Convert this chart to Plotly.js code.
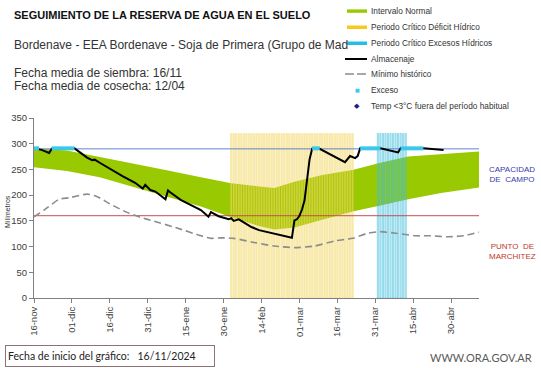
<!DOCTYPE html>
<html><head><meta charset="utf-8">
<script src="https://cdn.plot.ly/plotly-3.0.1.min.js"></script>
<style>html,body{margin:0;padding:0;background:#fff;}#chart{width:541px;height:368px;}</style>
</head><body><div id="chart"></div>
<script>
// ---------- DATA ----------
const tickDates = ['2024-11-16','2024-12-01','2024-12-16','2024-12-31','2025-01-15','2025-01-30','2025-02-14','2025-03-01','2025-03-16','2025-03-31','2025-04-15','2025-04-30'];
const tickLabels = ['16-nov','01-dic','16-dic','31-dic','15-ene','30-ene','14-feb','01-mar','16-mar','31-mar','15-abr','30-abr'];

const bandDates = ['2024-11-16','2024-11-29','2024-12-12','2024-12-25','2025-01-08','2025-01-21','2025-02-02','2025-02-13','2025-02-19','2025-02-27','2025-03-10','2025-03-22','2025-04-02','2025-04-13','2025-04-26','2025-05-11'];
const bandUpper = [291,287,274,262,248,235,223,217,214,226,239,249,263,275,280,285];
const bandLower = [254,247,235,216,196,178,157,140,133,137,152,168,180,192,204,215];

const almDates = ['2024-11-16','2024-11-19','2024-11-22','2024-11-23','2024-12-02','2024-12-07','2024-12-09','2024-12-10','2024-12-12','2024-12-16','2024-12-21','2024-12-26','2024-12-28','2024-12-29','2024-12-30','2025-01-01','2025-01-03','2025-01-05','2025-01-07','2025-01-08','2025-01-09','2025-01-13','2025-01-21','2025-01-24','2025-01-25','2025-01-28','2025-02-01','2025-02-02','2025-02-03','2025-02-05','2025-02-10','2025-02-13','2025-02-18','2025-02-26','2025-02-27','2025-02-28','2025-03-01','2025-03-02','2025-03-03','2025-03-04','2025-03-05','2025-03-06','2025-03-09','2025-03-19','2025-03-21','2025-03-23','2025-03-24','2025-03-25','2025-04-02','2025-04-09','2025-04-10','2025-04-19','2025-04-27'];
const almValues = [291,288,282,290,291,273,268,269,263,251,237,224,216,213,220,210,207,200,192,209,205,191,171,158,167,159,153,155,150,153,138,132,126,117,151,153,160,172,190,235,270,290,290,264,276,272,276,291,291,283,291,291,288];

const minDates = ['2024-11-16','2024-11-20','2024-11-26','2024-11-30','2024-12-07','2024-12-11','2024-12-16','2024-12-23','2024-12-28','2025-01-02','2025-01-11','2025-01-21','2025-01-25','2025-01-29','2025-02-03','2025-02-11','2025-02-19','2025-02-27','2025-03-07','2025-03-15','2025-03-22','2025-03-28','2025-04-02','2025-04-08','2025-04-16','2025-04-22','2025-04-29','2025-05-05','2025-05-11'];
const minValues = [158,171,192,195,202,197,183,166,157,150,137,121,116,117,116,108,101,98,101,111,116,126,129,126,121,121,119,121,128];

const excesoDates = ['2024-11-16','2024-11-18',null,'2024-11-23','2024-12-02',null,'2025-03-06','2025-03-09',null,'2025-03-25','2025-04-02',null,'2025-04-10','2025-04-19'];
const excesoValues = [291,291,null,291,291,null,291,291,null,291,291,null,291,291];

const deficitPeriod = ['2025-02-02','2025-03-22'];
const excesoPeriod = ['2025-04-01','2025-04-12'];
const periodHeight = 320;

const capacidadCampo = 290;
const puntoMarchitez = 160;
const xRange = ['2024-11-16','2025-05-11'];

const legendLabels = ['Intervalo Normal','Periodo Crítico Déficit Hídrico','Periodo Crítico Excesos Hídricos','Almacenaje','Mínimo histórico','Exceso','Temp <3°C fuera del período habitual'];

// ---------- HELPERS ----------
function expandDays(a,b){
  const out=[]; let d=new Date(a+'T00:00:00Z'); const e=new Date(b+'T00:00:00Z');
  while(d<=e){ out.push(d.toISOString().slice(0,10)); d=new Date(d.getTime()+86400000); }
  return out;
}
const W=541,H=368,M={l:34,r:62,t:118,b:70};
const PW=W-M.l-M.r, PH=H-M.t-M.b;
const px=x=>(x-M.l)/PW, py=y=>(H-M.b-y)/PH;
const FONT='"Liberation Sans", Arial, sans-serif';
const DAY=86400000;

const defDays=expandDays(deficitPeriod[0],deficitPeriod[1]);
const excDays=expandDays(excesoPeriod[0],excesoPeriod[1]);

const traces=[
  {x:bandDates,y:bandLower,type:'scatter',mode:'lines',line:{width:0,color:'#99C900'},hoverinfo:'skip',showlegend:false,yaxis:'y'},
  {x:bandDates,y:bandUpper,type:'scatter',mode:'lines',line:{width:0,color:'#99C900'},fill:'tonexty',fillcolor:'#99C900',showlegend:false,yaxis:'y'},
  {x:defDays,y:defDays.map(()=>periodHeight),type:'bar',width:0.62*DAY,marker:{color:'rgba(248,224,110,0.55)',line:{color:'rgba(232,196,60,0.55)',width:0.4}},showlegend:false,yaxis:'y2'},
  {x:excDays,y:excDays.map(()=>periodHeight),type:'bar',width:0.45*DAY,marker:{color:'rgba(170,228,242,0.25)',line:{color:'rgba(50,185,218,0.85)',width:0.6}},showlegend:false,yaxis:'y2'},
  {x:xRange,y:[capacidadCampo,capacidadCampo],type:'scatter',mode:'lines',line:{color:'#5E86D4',width:1},showlegend:false,yaxis:'y2'},
  {x:xRange,y:[puntoMarchitez,puntoMarchitez],type:'scatter',mode:'lines',line:{color:'#C0504D',width:1},showlegend:false,yaxis:'y2'},
  {x:minDates,y:minValues,type:'scatter',mode:'lines',line:{color:'#8C8C8C',width:1.6,dash:'7px,4px',shape:'spline',smoothing:0.6},showlegend:false,yaxis:'y2'},
  {x:almDates,y:almValues,type:'scatter',mode:'lines',line:{color:'#000000',width:2},showlegend:false,yaxis:'y2'},
  {x:excesoDates,y:excesoValues,type:'scatter',mode:'lines',connectgaps:false,line:{color:'#3CC8EC',width:4},showlegend:false,yaxis:'y2'}
];

const ann=[];
const shapes=[];
function txt(x,y,text,opt){ann.push(Object.assign({xref:'paper',yref:'paper',x:px(x),y:py(y),text:text,showarrow:false,xanchor:'left',yanchor:'middle',font:{family:FONT,size:12,color:'#222'}},opt||{}));}

txt(12,15,'<b>SEGUIMIENTO DE LA RESERVA DE AGUA EN EL SUELO</b>',{font:{family:FONT,size:11,color:'#111'}});
txt(12,45,'Bordenave - EEA Bordenave - Soja de Primera (Grupo de Mad',{font:{family:FONT,size:12,color:'#333'}});
txt(12,73,'Fecha media de siembra: 16/11',{font:{family:FONT,size:12,color:'#333'}});
txt(12,86,'Fecha media de cosecha: 12/04',{font:{family:FONT,size:12,color:'#333'}});

// legend
const legY=[11,27,43,59,74,90,106];
legendLabels.forEach((l,i)=>txt(369,legY[i],l,{font:{family:FONT,size:8.3,color:'#333'}}));
const lx0=px(347), lx1=px(367);
shapes.push({type:'rect',xref:'paper',yref:'paper',x0:lx0,x1:lx1,y0:py(12.8),y1:py(9.4),fillcolor:'#99C900',line:{width:0}});
shapes.push({type:'rect',xref:'paper',yref:'paper',x0:lx0,x1:lx1,y0:py(29),y1:py(25.5),fillcolor:'#F8C81A',line:{width:0}});
shapes.push({type:'rect',xref:'paper',yref:'paper',x0:lx0,x1:lx1,y0:py(45),y1:py(41.5),fillcolor:'#22BDEA',line:{width:0}});
shapes.push({type:'line',xref:'paper',yref:'paper',x0:px(345),x1:px(367),y0:py(59),y1:py(59),line:{color:'#000',width:2}});
shapes.push({type:'line',xref:'paper',yref:'paper',x0:px(345),x1:px(366),y0:py(74),y1:py(74),line:{color:'#8C8C8C',width:1.6,dash:'9px,3px'}});
txt(357,90,'■',{xanchor:'center',font:{family:'DejaVu Sans',size:5,color:'#3CC8EC'}});
txt(357,106,'◆',{xanchor:'center',font:{family:'DejaVu Sans',size:7,color:'#1C1C8C'}});

txt(487,174.5,'CAPACIDAD<br>DE  CAMPO',{font:{family:FONT,size:8,color:'#3A3AAE'}});
txt(487,251,'PUNTO  DE<br>MARCHITEZ',{font:{family:FONT,size:8,color:'#C0392B'}});
txt(7,212,'Milímetros',{xanchor:'center',textangle:-90,font:{family:FONT,size:7,color:'#333'}});

ann.push({xref:'paper',yref:'paper',x:px(5),y:py(345),xanchor:'left',yanchor:'top',showarrow:false,align:'left',width:204,height:16,
  text:'Fecha de inicio del gráfico:\u00a0\u00a0 16/11/2024',font:{family:'Lato, "Open Sans", sans-serif',size:10.5,color:'#222'},
  bordercolor:'#8E7373',borderwidth:1,borderpad:2,bgcolor:'#fff'});
txt(428,357,'WWW.ORA.GOV.AR',{font:{family:'Lato, "Open Sans", sans-serif',size:11,color:'#5A5A5A'}});

const axisFont={family:FONT,size:9.5,color:'#404040'};
const layout={
  width:W,height:H,margin:M,paper_bgcolor:'#fff',plot_bgcolor:'rgba(0,0,0,0)',
  showlegend:false,barmode:'overlay',
  xaxis:{type:'date',range:xRange,tickvals:tickDates,ticktext:tickLabels,tickangle:-90,tickfont:axisFont,
    showgrid:false,zeroline:false,showline:true,linecolor:'#808080',linewidth:1,ticks:'outside',ticklen:4,tickcolor:'#808080'},
  yaxis:{range:[0,350],dtick:50,tickfont:axisFont,showgrid:false,zeroline:false,showline:true,linecolor:'#808080',linewidth:1,
    ticks:'outside',ticklen:4,tickcolor:'#808080'},
  yaxis2:{range:[0,350],overlaying:'y',visible:false,showgrid:false,zeroline:false},
  annotations:ann,shapes:shapes
};
Plotly.newPlot('chart',traces,layout,{staticPlot:true,displayModeBar:false});
</script></body></html>
